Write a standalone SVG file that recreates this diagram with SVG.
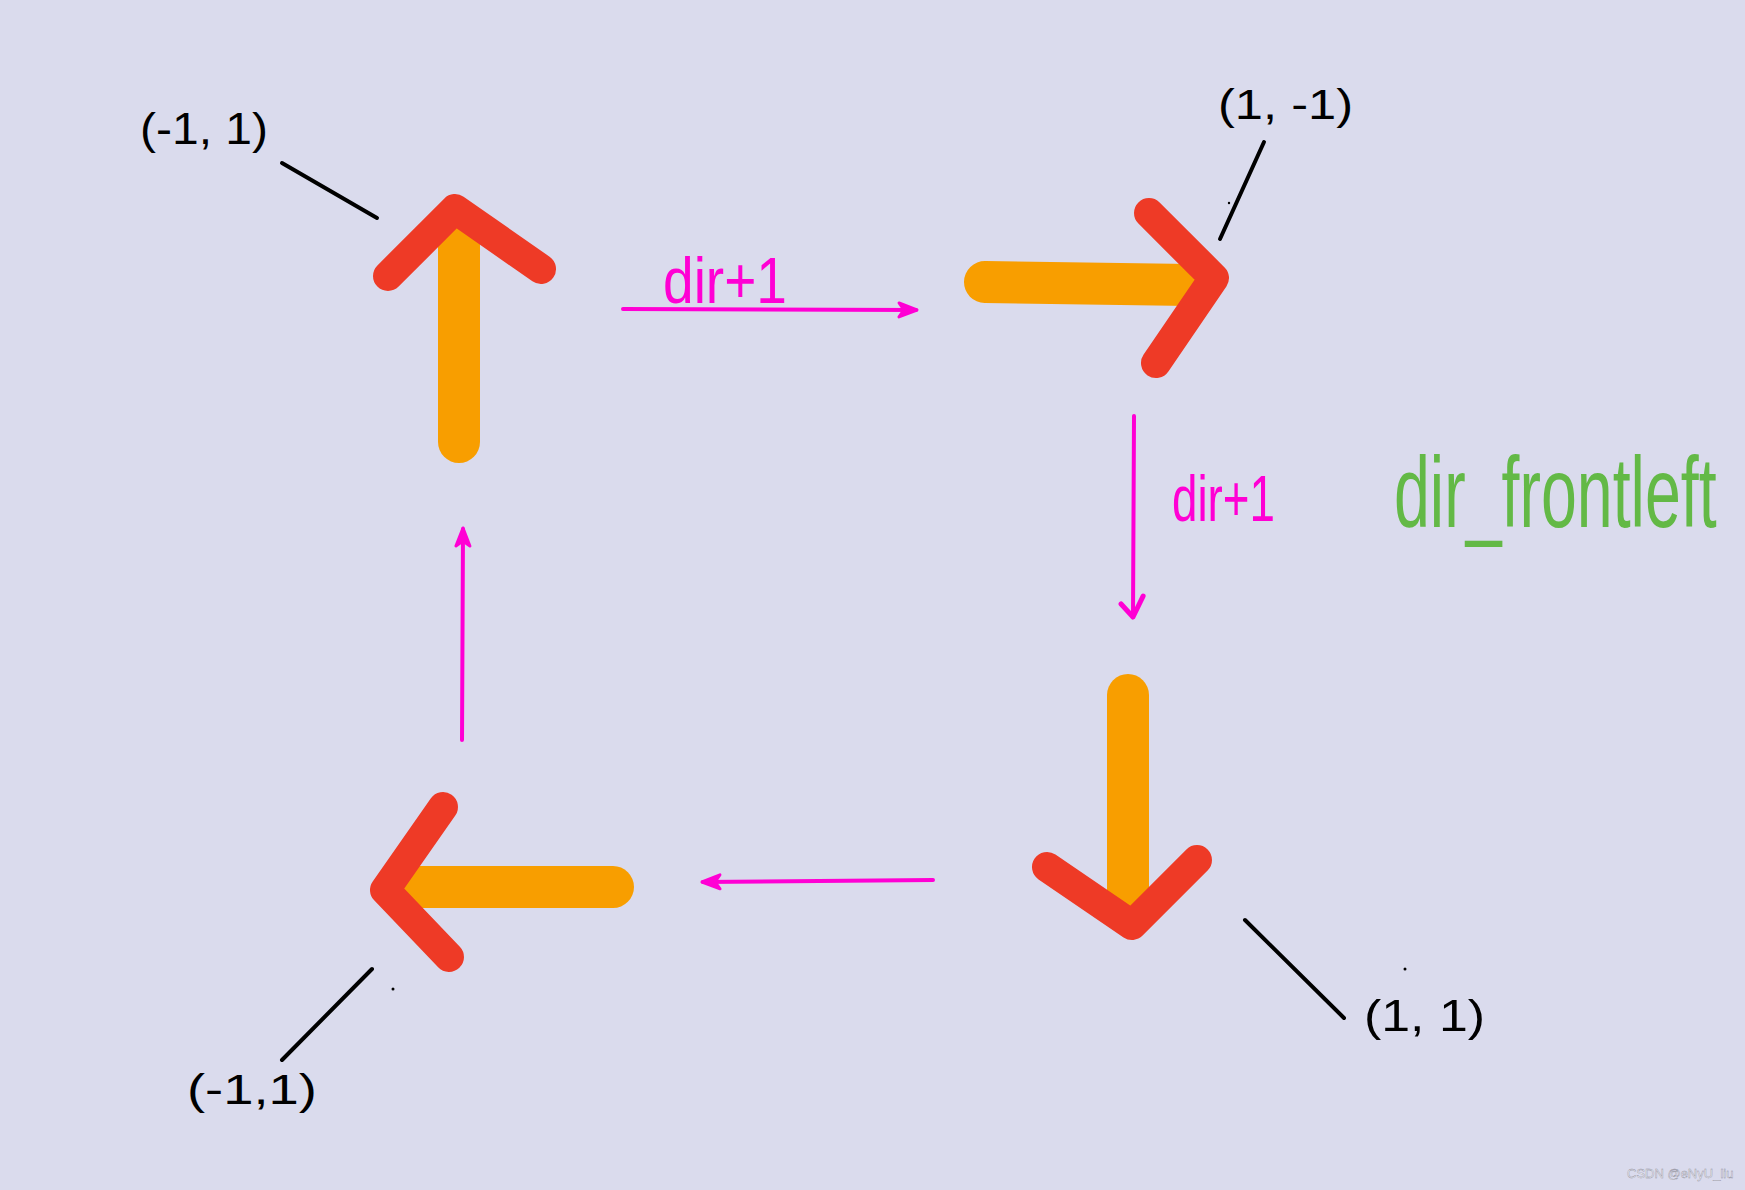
<svg xmlns="http://www.w3.org/2000/svg" width="1745" height="1190" viewBox="0 0 1745 1190">
  <defs>
    <style>
      .shaft { fill: none; stroke: #f89e00; stroke-width: 42; stroke-linecap: round; }
      .chev { fill: none; stroke: #ee3a26; stroke-width: 30; stroke-linecap: round; stroke-linejoin: round; }
      .leader { fill: none; stroke: #000; stroke-width: 4; stroke-linecap: round; }
      .coord { font-family: "Liberation Sans", Arial, sans-serif; fill: #000; }
      .conn { fill: none; stroke: #ff00d4; stroke-width: 4; stroke-linecap: round; }
      .mlabel { font-family: "Liberation Sans", Arial, sans-serif; fill: #ff00d4; }
      .green { font-family: "Liberation Sans", Arial, sans-serif; fill: #63b946; }
      .mark { font-family: "Liberation Sans", Arial, sans-serif; font-size: 13px; fill: #f2f2f8; stroke: #8e8e9c; stroke-width: 0.4; }
    </style>
    <marker id="blob" markerUnits="userSpaceOnUse" markerWidth="26" markerHeight="22" viewBox="-22 -11 26 22" refX="0" refY="0" orient="auto">
      <path d="M-17,-7 L1,0 L-17,7 L-12,0 Z" fill="#ff00d4" stroke="#ff00d4" stroke-width="3" stroke-linejoin="round"/>
    </marker>
    <marker id="vee" markerUnits="userSpaceOnUse" markerWidth="30" markerHeight="30" viewBox="-25 -15 30 30" refX="0" refY="0" orient="auto">
      <path d="M-13,12 L0,0 L-21,-10" fill="none" stroke="#ff00d4" stroke-width="5" stroke-linecap="round" stroke-linejoin="round"/>
    </marker>
  </defs>

  <rect x="0" y="0" width="1745" height="1190" fill="#dadbed"/>

  <g id="arrow-up">
    <line class="shaft" x1="459" y1="442" x2="459" y2="240"/>
    <polyline class="chev" points="388,276 455,209 541,269"/>
    <line class="leader" x1="282" y1="163" x2="377" y2="218"/>
    <text class="coord" x="140" y="144" font-size="44" textLength="128" lengthAdjust="spacingAndGlyphs">(-1, 1)</text>
  </g>

  <g id="arrow-right">
    <line class="shaft" x1="985" y1="282" x2="1190" y2="285"/>
    <polyline class="chev" points="1149,213 1214,278 1156,363"/>
    <line class="leader" x1="1264" y1="142" x2="1220" y2="239"/>
    <circle cx="1229" cy="203" r="1.2" fill="#000"/>
    <text class="coord" x="1218" y="119" font-size="43" textLength="135" lengthAdjust="spacingAndGlyphs">(1, -1)</text>
  </g>

  <g id="arrow-down">
    <line class="shaft" x1="1128" y1="695" x2="1128" y2="905"/>
    <polyline class="chev" points="1047,867 1132,925 1197,860"/>
    <line class="leader" x1="1245" y1="920" x2="1344" y2="1018"/>
    <circle cx="1405" cy="969" r="1.5" fill="#000"/>
    <text class="coord" x="1364" y="1031" font-size="45" textLength="121" lengthAdjust="spacingAndGlyphs">(1, 1)</text>
  </g>

  <g id="arrow-left">
    <line class="shaft" x1="400" y1="887" x2="613" y2="887"/>
    <polyline class="chev" points="443,807 385,890 449,957"/>
    <line class="leader" x1="372" y1="969" x2="282" y2="1060"/>
    <circle cx="393" cy="989" r="1.5" fill="#000"/>
    <text class="coord" x="187" y="1104" font-size="42" textLength="130" lengthAdjust="spacingAndGlyphs">(-1,1)</text>
  </g>

  <g id="connectors">
    <line class="conn" x1="623" y1="309" x2="916" y2="310" marker-end="url(#blob)"/>
    <line class="conn" x1="1134" y1="416" x2="1133" y2="617" marker-end="url(#vee)"/>
    <line class="conn" x1="933" y1="880" x2="703" y2="882" marker-end="url(#blob)"/>
    <line class="conn" x1="462" y1="740" x2="463" y2="529" marker-end="url(#blob)"/>
    <text class="mlabel" x="663" y="303" font-size="64" textLength="124" lengthAdjust="spacingAndGlyphs">dir+1</text>
    <text class="mlabel" x="1172" y="521" font-size="64" textLength="103" lengthAdjust="spacingAndGlyphs">dir+1</text>
  </g>

  <g id="title">
    <text class="green" transform="translate(1394,527) scale(0.645,1)" x="0" y="0" font-size="100">dir_frontleft</text>
  </g>

  <text class="mark" x="1627" y="1178">CSDN @eNyU_liu</text>
</svg>
